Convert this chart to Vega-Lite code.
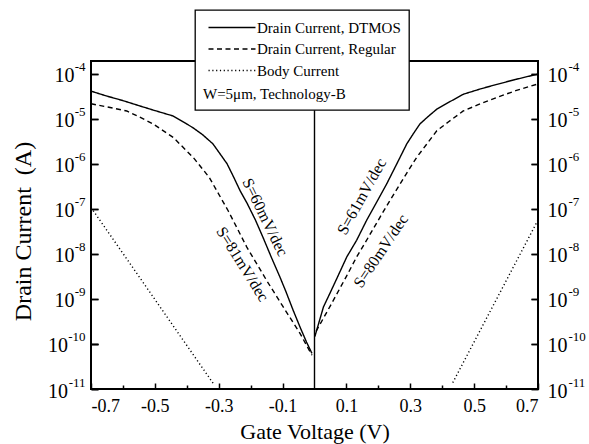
{
  "$schema": "https://vega.github.io/schema/vega-lite/v6.json",
  "width": 447,
  "height": 328,
  "autosize": {"type": "none"},
  "padding": {"left": 91, "top": 61, "right": 51, "bottom": 55},
  "background": "white",
  "config": {
    "view": {"stroke": "black", "strokeWidth": 2},
    "font": "Liberation Serif",
    "axis": {
      "labelFont": "Liberation Serif",
      "titleFont": "Liberation Serif",
      "labelColor": "black",
      "titleColor": "black",
      "tickColor": "black",
      "domain": false,
      "grid": false,
      "titleFontWeight": "normal"
    }
  },
  "datasets": {
    "curves": [
      {"series": "Drain Current, DTMOS", "branch": "dt-neg", "V": -0.70, "I": 4.07e-5},
      {"series": "Drain Current, DTMOS", "branch": "dt-neg", "V": -0.65, "I": 3.16e-5},
      {"series": "Drain Current, DTMOS", "branch": "dt-neg", "V": -0.60, "I": 2.51e-5},
      {"series": "Drain Current, DTMOS", "branch": "dt-neg", "V": -0.547, "I": 1.91e-5},
      {"series": "Drain Current, DTMOS", "branch": "dt-neg", "V": -0.50, "I": 1.51e-5},
      {"series": "Drain Current, DTMOS", "branch": "dt-neg", "V": -0.444, "I": 1.15e-5},
      {"series": "Drain Current, DTMOS", "branch": "dt-neg", "V": -0.40, "I": 7.59e-6},
      {"series": "Drain Current, DTMOS", "branch": "dt-neg", "V": -0.381, "I": 6.31e-6},
      {"series": "Drain Current, DTMOS", "branch": "dt-neg", "V": -0.35, "I": 4.37e-6},
      {"series": "Drain Current, DTMOS", "branch": "dt-neg", "V": -0.318, "I": 2.75e-6},
      {"series": "Drain Current, DTMOS", "branch": "dt-neg", "V": -0.295, "I": 1.62e-6},
      {"series": "Drain Current, DTMOS", "branch": "dt-neg", "V": -0.274, "I": 1.0e-6},
      {"series": "Drain Current, DTMOS", "branch": "dt-neg", "V": -0.253, "I": 5.01e-7},
      {"series": "Drain Current, DTMOS", "branch": "dt-neg", "V": -0.233, "I": 2.51e-7},
      {"series": "Drain Current, DTMOS", "branch": "dt-neg", "V": -0.211, "I": 1.32e-7},
      {"series": "Drain Current, DTMOS", "branch": "dt-neg", "V": -0.185, "I": 5.62e-8},
      {"series": "Drain Current, DTMOS", "branch": "dt-neg", "V": -0.161, "I": 2.29e-8},
      {"series": "Drain Current, DTMOS", "branch": "dt-neg", "V": -0.135, "I": 8.32e-9},
      {"series": "Drain Current, DTMOS", "branch": "dt-neg", "V": -0.108, "I": 3.02e-9},
      {"series": "Drain Current, DTMOS", "branch": "dt-neg", "V": -0.09, "I": 1.48e-9},
      {"series": "Drain Current, DTMOS", "branch": "dt-neg", "V": -0.067, "I": 5.62e-10},
      {"series": "Drain Current, DTMOS", "branch": "dt-neg", "V": -0.045, "I": 2.34e-10},
      {"series": "Drain Current, DTMOS", "branch": "dt-neg", "V": -0.025, "I": 1.10e-10},
      {"series": "Drain Current, DTMOS", "branch": "dt-neg", "V": -0.008, "I": 6.17e-11},
      {"series": "Drain Current, DTMOS", "branch": "dt-pos", "V": 0.001, "I": 1.45e-10},
      {"series": "Drain Current, DTMOS", "branch": "dt-pos", "V": 0.028, "I": 6.61e-10},
      {"series": "Drain Current, DTMOS", "branch": "dt-pos", "V": 0.05, "I": 1.41e-9},
      {"series": "Drain Current, DTMOS", "branch": "dt-pos", "V": 0.075, "I": 3.39e-9},
      {"series": "Drain Current, DTMOS", "branch": "dt-pos", "V": 0.101, "I": 8.51e-9},
      {"series": "Drain Current, DTMOS", "branch": "dt-pos", "V": 0.132, "I": 2.0e-8},
      {"series": "Drain Current, DTMOS", "branch": "dt-pos", "V": 0.163, "I": 5.5e-8},
      {"series": "Drain Current, DTMOS", "branch": "dt-pos", "V": 0.195, "I": 1.41e-7},
      {"series": "Drain Current, DTMOS", "branch": "dt-pos", "V": 0.226, "I": 3.55e-7},
      {"series": "Drain Current, DTMOS", "branch": "dt-pos", "V": 0.258, "I": 1.0e-6},
      {"series": "Drain Current, DTMOS", "branch": "dt-pos", "V": 0.289, "I": 2.75e-6},
      {"series": "Drain Current, DTMOS", "branch": "dt-pos", "V": 0.31, "I": 4.68e-6},
      {"series": "Drain Current, DTMOS", "branch": "dt-pos", "V": 0.33, "I": 7.59e-6},
      {"series": "Drain Current, DTMOS", "branch": "dt-pos", "V": 0.355, "I": 1.10e-5},
      {"series": "Drain Current, DTMOS", "branch": "dt-pos", "V": 0.383, "I": 1.62e-5},
      {"series": "Drain Current, DTMOS", "branch": "dt-pos", "V": 0.42, "I": 2.29e-5},
      {"series": "Drain Current, DTMOS", "branch": "dt-pos", "V": 0.466, "I": 3.47e-5},
      {"series": "Drain Current, DTMOS", "branch": "dt-pos", "V": 0.52, "I": 4.57e-5},
      {"series": "Drain Current, DTMOS", "branch": "dt-pos", "V": 0.571, "I": 5.75e-5},
      {"series": "Drain Current, DTMOS", "branch": "dt-pos", "V": 0.63, "I": 7.41e-5},
      {"series": "Drain Current, DTMOS", "branch": "dt-pos", "V": 0.70, "I": 9.77e-5},
      {"series": "Drain Current, Regular", "branch": "rg-neg", "V": -0.70, "I": 2.14e-5},
      {"series": "Drain Current, Regular", "branch": "rg-neg", "V": -0.65, "I": 1.82e-5},
      {"series": "Drain Current, Regular", "branch": "rg-neg", "V": -0.588, "I": 1.48e-5},
      {"series": "Drain Current, Regular", "branch": "rg-neg", "V": -0.55, "I": 1.10e-5},
      {"series": "Drain Current, Regular", "branch": "rg-neg", "V": -0.505, "I": 7.59e-6},
      {"series": "Drain Current, Regular", "branch": "rg-neg", "V": -0.442, "I": 3.80e-6},
      {"series": "Drain Current, Regular", "branch": "rg-neg", "V": -0.40, "I": 1.91e-6},
      {"series": "Drain Current, Regular", "branch": "rg-neg", "V": -0.38, "I": 1.38e-6},
      {"series": "Drain Current, Regular", "branch": "rg-neg", "V": -0.33, "I": 5.01e-7},
      {"series": "Drain Current, Regular", "branch": "rg-neg", "V": -0.27, "I": 8.91e-8},
      {"series": "Drain Current, Regular", "branch": "rg-neg", "V": -0.212, "I": 1.41e-8},
      {"series": "Drain Current, Regular", "branch": "rg-neg", "V": -0.15, "I": 2.57e-9},
      {"series": "Drain Current, Regular", "branch": "rg-neg", "V": -0.098, "I": 6.61e-10},
      {"series": "Drain Current, Regular", "branch": "rg-neg", "V": -0.045, "I": 1.70e-10},
      {"series": "Drain Current, Regular", "branch": "rg-neg", "V": -0.008, "I": 5.62e-11},
      {"series": "Drain Current, Regular", "branch": "rg-pos", "V": 0.005, "I": 1.91e-10},
      {"series": "Drain Current, Regular", "branch": "rg-pos", "V": 0.05, "I": 7.08e-10},
      {"series": "Drain Current, Regular", "branch": "rg-pos", "V": 0.10, "I": 3.16e-9},
      {"series": "Drain Current, Regular", "branch": "rg-pos", "V": 0.132, "I": 8.51e-9},
      {"series": "Drain Current, Regular", "branch": "rg-pos", "V": 0.168, "I": 2.29e-8},
      {"series": "Drain Current, Regular", "branch": "rg-pos", "V": 0.205, "I": 6.46e-8},
      {"series": "Drain Current, Regular", "branch": "rg-pos", "V": 0.236, "I": 1.51e-7},
      {"series": "Drain Current, Regular", "branch": "rg-pos", "V": 0.268, "I": 3.55e-7},
      {"series": "Drain Current, Regular", "branch": "rg-pos", "V": 0.295, "I": 7.24e-7},
      {"series": "Drain Current, Regular", "branch": "rg-pos", "V": 0.32, "I": 1.38e-6},
      {"series": "Drain Current, Regular", "branch": "rg-pos", "V": 0.35, "I": 2.63e-6},
      {"series": "Drain Current, Regular", "branch": "rg-pos", "V": 0.383, "I": 5.37e-6},
      {"series": "Drain Current, Regular", "branch": "rg-pos", "V": 0.42, "I": 8.51e-6},
      {"series": "Drain Current, Regular", "branch": "rg-pos", "V": 0.466, "I": 1.48e-5},
      {"series": "Drain Current, Regular", "branch": "rg-pos", "V": 0.52, "I": 2.14e-5},
      {"series": "Drain Current, Regular", "branch": "rg-pos", "V": 0.571, "I": 2.95e-5},
      {"series": "Drain Current, Regular", "branch": "rg-pos", "V": 0.63, "I": 4.17e-5},
      {"series": "Drain Current, Regular", "branch": "rg-pos", "V": 0.70, "I": 5.89e-5},
      {"series": "Body Current", "branch": "bd-neg", "V": -0.70, "I": 1.07e-7},
      {"series": "Body Current", "branch": "bd-neg", "V": -0.315, "I": 1.26e-11},
      {"series": "Body Current", "branch": "bd-pos", "V": 0.433, "I": 1.38e-11},
      {"series": "Body Current", "branch": "bd-pos", "V": 0.70, "I": 5.62e-8}
    ]
  },
  "resolve": {"axis": {"x": "independent", "y": "independent"}},
  "layer": [
    {
      "data": {"values": [{"V": 0}]},
      "mark": {"type": "rule", "color": "black", "strokeWidth": 1.4},
      "encoding": {
        "x": {
          "field": "V",
          "type": "quantitative",
          "scale": {"domain": [-0.7, 0.7], "nice": false, "zero": false},
          "axis": {
            "orient": "bottom",
            "values": [-0.6, -0.4, -0.2, 0.2, 0.4, 0.6],
            "labels": false,
            "tickSize": -4,
            "tickWidth": 1.5,
            "title": null
          }
        }
      }
    },
    {
      "data": {"name": "curves"},
      "mark": {"type": "line", "color": "black", "strokeWidth": 1.4},
      "encoding": {
        "x": {
          "field": "V",
          "type": "quantitative",
          "scale": {"domain": [-0.7, 0.7], "nice": false, "zero": false},
          "axis": {
            "orient": "bottom",
            "values": [-0.7, -0.5, -0.3, -0.1, 0.1, 0.3, 0.5, 0.7],
            "labelExpr": "datum.value < 0 ? '-' + format(-datum.value, '.1f') : format(datum.value, '.1f')",
            "labelFontSize": 18,
            "labelPadding": 14,
            "tickSize": -6,
            "tickWidth": 1.5,
            "title": "Gate Voltage (V)",
            "titleFontSize": 22,
            "titleBaseline": "middle",
            "titleY": 42
          }
        },
        "y": {
          "field": "I",
          "type": "quantitative",
          "scale": {"type": "log", "domain": [1e-11, 1.9e-4], "nice": false},
          "axis": {
            "orient": "left",
            "values": [1e-11, 1e-10, 1e-9, 1e-8, 1e-7, 1e-6, 1e-5, 1e-4],
            "labelExpr": "datum.value > 5e-10 ? '10' : ''",
            "labelFontSize": 20,
            "labelPadding": 24,
            "labelOffset": 2,
            "tickSize": -7,
            "tickWidth": 1.5,
            "title": "Drain Current\u00a0 (A)",
            "titleFontSize": 24,
            "titleBaseline": "middle",
            "titleX": -68,
            "titleY": 170
          }
        },
        "strokeDash": {
          "field": "series",
          "type": "nominal",
          "scale": {
            "domain": ["Drain Current, DTMOS", "Drain Current, Regular", "Body Current"],
            "range": [[1, 0], [5, 3.5], [1.2, 2.6]]
          },
          "legend": {
            "orient": "none",
            "legendX": 104,
            "legendY": -51,
            "title": "W=5μm, Technology-B",
            "titleOrient": "bottom",
            "titleFont": "Liberation Serif",
            "titleFontSize": 15,
            "titleFontWeight": "normal",
            "titleColor": "black",
            "titlePadding": 8,
            "labelFont": "Liberation Serif",
            "labelFontSize": 15,
            "labelColor": "black",
            "symbolType": "M-2.765,0H2.765",
            "symbolSize": 289,
            "symbolStrokeColor": "black",
            "symbolStrokeWidth": 1.3,
            "symbolOffset": 15.5,
            "labelOffset": 15.5,
            "rowPadding": 3.5,
            "padding": 8,
            "fillColor": "white",
            "strokeColor": "black",
            "encode": {
              "legend": {"update": {"strokeWidth": {"value": 1.3}}},
              "title": {"update": {"dx": {"value": -4}}}
            }
          }
        },
        "detail": {"field": "branch", "type": "nominal"}
      }
    },
    {
      "data": {"values": [{"V": -0.155, "I": 6.46e-8, "label": "S=60mV/dec"}]},
      "mark": {"type": "text", "angle": 64, "font": "Liberation Serif", "fontSize": 16, "color": "black", "align": "center", "baseline": "middle"},
      "encoding": {
        "x": {"field": "V", "type": "quantitative", "axis": null},
        "y": {
          "field": "I",
          "type": "quantitative",
          "axis": {
            "orient": "left",
            "values": [1e-11, 1e-10, 1e-9, 1e-8, 1e-7, 1e-6, 1e-5, 1e-4],
            "labelExpr": "'-' + format(-round(log(datum.value)/LN10), 'd')",
            "labelFontSize": 13,
            "labelPadding": 13,
            "labelOffset": -7,
            "tickSize": -7,
            "tickWidth": 1.5,
            "title": null
          }
        },
        "text": {"field": "label"}
      }
    },
    {
      "data": {"values": [{"V": -0.226, "I": 5.89e-9, "label": "S=81mV/dec"}]},
      "mark": {"type": "text", "angle": 58, "font": "Liberation Serif", "fontSize": 16, "color": "black", "align": "center", "baseline": "middle"},
      "encoding": {
        "x": {"field": "V", "type": "quantitative", "axis": null},
        "y": {
          "field": "I",
          "type": "quantitative",
          "axis": {
            "orient": "right",
            "values": [1e-11, 1e-10, 1e-9, 1e-8, 1e-7, 1e-6, 1e-5, 1e-4],
            "labelExpr": "'10'",
            "labelFontSize": 20,
            "labelPadding": 16,
            "labelOffset": 2,
            "tickSize": -7,
            "tickWidth": 1.5,
            "title": null
          }
        },
        "text": {"field": "label"}
      }
    },
    {
      "data": {"values": [{"V": 0.148, "I": 1.86e-7, "label": "S=61mV/dec"}]},
      "mark": {"type": "text", "angle": -61, "font": "Liberation Serif", "fontSize": 16, "color": "black", "align": "center", "baseline": "middle"},
      "encoding": {
        "x": {"field": "V", "type": "quantitative", "axis": null},
        "y": {
          "field": "I",
          "type": "quantitative",
          "axis": {
            "orient": "right",
            "values": [1e-11, 1e-10, 1e-9, 1e-8, 1e-7, 1e-6, 1e-5, 1e-4],
            "labelExpr": "'-' + format(-round(log(datum.value)/LN10), 'd')",
            "labelFontSize": 13,
            "labelPadding": 37,
            "labelOffset": -7,
            "tickSize": -7,
            "tickWidth": 1.5,
            "title": null
          }
        },
        "text": {"field": "label"}
      }
    },
    {
      "data": {"values": [{"V": 0.208, "I": 1.15e-8, "label": "S=80mV/dec"}]},
      "mark": {"type": "text", "angle": -56, "font": "Liberation Serif", "fontSize": 16, "color": "black", "align": "center", "baseline": "middle"},
      "encoding": {
        "x": {"field": "V", "type": "quantitative", "axis": null},
        "y": {
          "field": "I",
          "type": "quantitative",
          "axis": {
            "orient": "left",
            "values": [1e-11, 1e-10],
            "labelExpr": "'10'",
            "labelFontSize": 20,
            "labelPadding": 30.5,
            "labelOffset": 2,
            "tickSize": -7,
            "tickWidth": 1.5,
            "title": null
          }
        },
        "text": {"field": "label"}
      }
    }
  ]
}
